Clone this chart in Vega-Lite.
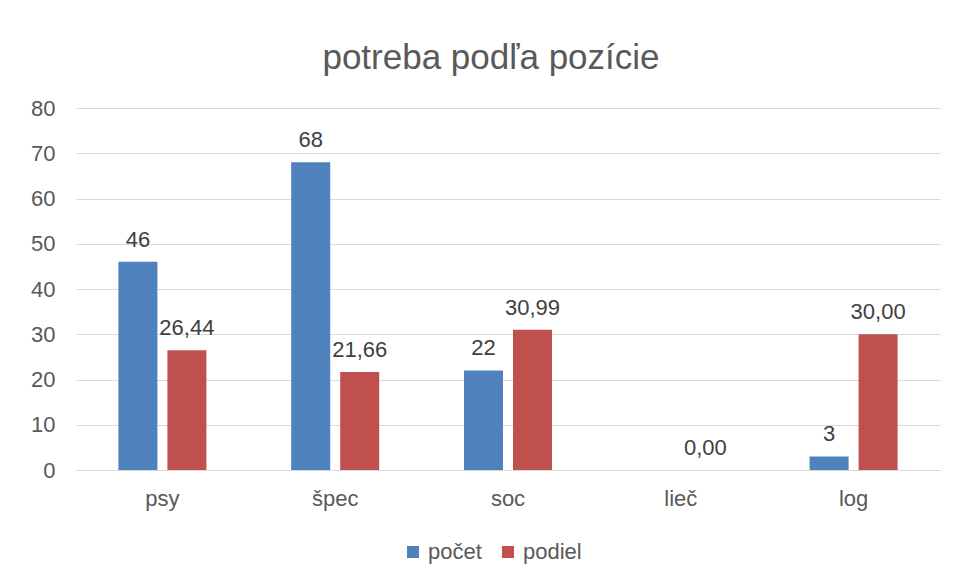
{
  "$schema": "https://vega.github.io/schema/vega-lite/v6.json",
  "width": 864,
  "height": 362,
  "autosize": "none",
  "padding": {"left": 76, "top": 108, "right": 14, "bottom": 113},
  "background": "white",
  "config": {
    "view": {"stroke": null},
    "font": "Liberation Sans"
  },
  "title": {
    "text": "potreba podľa pozície",
    "fontSize": 35,
    "font": "Liberation Sans",
    "fontWeight": "normal",
    "color": "#595959",
    "offset": 21,
    "dx": -17,
    "anchor": "middle"
  },
  "data": {
    "values": [
      {"pozicia": "psy", "seria": "počet", "hodnota": 46, "label": "46"},
      {"pozicia": "psy", "seria": "podiel", "hodnota": 26.44, "label": "26,44"},
      {"pozicia": "špec", "seria": "počet", "hodnota": 68, "label": "68"},
      {"pozicia": "špec", "seria": "podiel", "hodnota": 21.66, "label": "21,66"},
      {"pozicia": "soc", "seria": "počet", "hodnota": 22, "label": "22"},
      {"pozicia": "soc", "seria": "podiel", "hodnota": 30.99, "label": "30,99"},
      {"pozicia": "lieč", "seria": "počet", "hodnota": null, "label": null},
      {"pozicia": "lieč", "seria": "podiel", "hodnota": 0, "label": "0,00"},
      {"pozicia": "log", "seria": "počet", "hodnota": 3, "label": "3"},
      {"pozicia": "log", "seria": "podiel", "hodnota": 30, "label": "30,00"}
    ]
  },
  "encoding": {
    "x": {
      "field": "pozicia",
      "type": "nominal",
      "sort": ["psy", "špec", "soc", "lieč", "log"],
      "scale": {"paddingInner": 0, "paddingOuter": 0},
      "axis": {
        "title": null,
        "labelAngle": 0,
        "labelFontSize": 22,
        "labelColor": "#595959",
        "labelPadding": 18,
        "ticks": false,
        "domainColor": "#d9d9d9",
        "domainWidth": 1
      }
    },
    "xOffset": {
      "field": "seria",
      "type": "nominal",
      "sort": ["počet", "podiel"],
      "scale": {"paddingInner": 0.204, "paddingOuter": 0.865}
    },
    "y": {
      "field": "hodnota",
      "type": "quantitative",
      "scale": {"domain": [0, 80], "nice": false},
      "axis": {
        "title": null,
        "values": [0, 10, 20, 30, 40, 50, 60, 70, 80],
        "labelFontSize": 22,
        "labelColor": "#595959",
        "labelPadding": 21,
        "ticks": false,
        "domain": false,
        "grid": true,
        "gridColor": "#d9d9d9",
        "gridWidth": 1
      }
    }
  },
  "layer": [
    {
      "mark": {"type": "bar"},
      "encoding": {
        "color": {
          "field": "seria",
          "type": "nominal",
          "sort": ["počet", "podiel"],
          "scale": {"domain": ["počet", "podiel"], "range": ["#4F81BD", "#C0504D"]},
          "legend": {
            "orient": "none",
            "legendX": 326,
            "legendY": 433,
            "direction": "horizontal",
            "title": null,
            "symbolType": "square",
            "symbolSize": 144,
            "symbolStrokeWidth": 0,
            "labelFontSize": 22,
            "labelColor": "#595959",
            "labelOffset": 4,
            "columnPadding": 15
          }
        }
      }
    },
    {
      "mark": {"type": "text", "fontSize": 22, "color": "#404040", "baseline": "middle", "dy": -22},
      "encoding": {"text": {"field": "label", "type": "nominal"}}
    }
  ]
}
